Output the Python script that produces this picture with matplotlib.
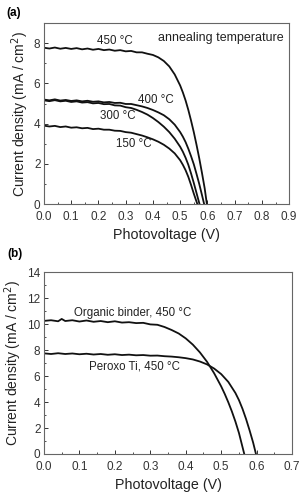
import matplotlib
matplotlib.use("Agg")
import matplotlib.pyplot as plt
from matplotlib.ticker import MultipleLocator

plt.rcParams['font.family'] = ['Liberation Sans', 'DejaVu Sans']

# =========================
# data
# =========================

# (a) annealing temperature series
v_450 = [0.00, 0.02, 0.04, 0.06, 0.08, 0.10, 0.12, 0.14, 0.16, 0.18, 0.20, 0.22, 0.24, 0.26, 0.28,
         0.30, 0.32, 0.34, 0.36, 0.38, 0.40, 0.42, 0.44, 0.46, 0.48, 0.50, 0.51, 0.52, 0.53, 0.54,
         0.55, 0.56, 0.57, 0.58, 0.59, 0.598]
j_450 = [7.78, 7.74, 7.79, 7.73, 7.77, 7.72, 7.76, 7.70, 7.74, 7.68, 7.72, 7.66, 7.69, 7.63, 7.66,
         7.60, 7.62, 7.55, 7.55, 7.48, 7.42, 7.30, 7.12, 6.85, 6.45, 5.90, 5.55, 5.15, 4.68, 4.15,
         3.58, 2.95, 2.28, 1.55, 0.78, 0.0]

v_400 = [0.00, 0.02, 0.04, 0.06, 0.08, 0.10, 0.12, 0.14, 0.16, 0.18, 0.20, 0.22, 0.24, 0.26, 0.28,
         0.30, 0.32, 0.34, 0.36, 0.38, 0.40, 0.42, 0.44, 0.46, 0.48, 0.50, 0.51, 0.52, 0.53, 0.54,
         0.55, 0.56, 0.57, 0.58, 0.588]
j_400 = [5.20, 5.16, 5.21, 5.15, 5.18, 5.13, 5.16, 5.11, 5.14, 5.09, 5.11, 5.06, 5.08, 5.03, 5.04,
         4.98, 4.98, 4.92, 4.86, 4.78, 4.68, 4.56, 4.42, 4.22, 3.95, 3.58, 3.35, 3.08, 2.75, 2.38,
         1.98, 1.50, 1.00, 0.45, 0.0]

v_300 = [0.00, 0.02, 0.04, 0.06, 0.08, 0.10, 0.12, 0.14, 0.16, 0.18, 0.20, 0.22, 0.24, 0.26, 0.28,
         0.30, 0.32, 0.34, 0.36, 0.38, 0.40, 0.42, 0.44, 0.46, 0.48, 0.50, 0.51, 0.52, 0.53, 0.54,
         0.55, 0.56, 0.571]
j_300 = [5.16, 5.12, 5.17, 5.11, 5.14, 5.08, 5.11, 5.05, 5.07, 5.01, 5.03, 4.97, 4.98, 4.91, 4.90,
         4.82, 4.78, 4.69, 4.58, 4.45, 4.28, 4.08, 3.85, 3.58, 3.25, 2.85, 2.60, 2.30, 1.95, 1.52,
         1.05, 0.55, 0.0]

v_150 = [0.00, 0.02, 0.04, 0.06, 0.08, 0.10, 0.12, 0.14, 0.16, 0.18, 0.20, 0.22, 0.24, 0.26, 0.28,
         0.30, 0.32, 0.34, 0.36, 0.38, 0.40, 0.42, 0.44, 0.46, 0.48, 0.50, 0.51, 0.52, 0.53, 0.54,
         0.55, 0.563]
j_150 = [3.90, 3.86, 3.89, 3.83, 3.86, 3.80, 3.82, 3.77, 3.79, 3.73, 3.75, 3.70, 3.70, 3.65, 3.64,
         3.58, 3.55, 3.48, 3.41, 3.32, 3.22, 3.10, 2.95, 2.76, 2.52, 2.18, 1.95, 1.68, 1.35, 0.95,
         0.52, 0.0]

labels_a = ["450 \u00b0C", "400 \u00b0C", "300 \u00b0C", "150 \u00b0C"]
label_pos_a = [(0.26, 8.1), (0.41, 5.2), (0.27, 4.4), (0.33, 3.0)]

# (b) binder comparison
v_org = [0.00, 0.02, 0.04, 0.05, 0.06, 0.08, 0.10, 0.12, 0.14, 0.16, 0.18, 0.20, 0.22, 0.24, 0.26,
         0.28, 0.30, 0.32, 0.34, 0.36, 0.38, 0.40, 0.42, 0.44, 0.46, 0.48, 0.50, 0.51, 0.52, 0.53,
         0.54, 0.55, 0.565]
j_org = [10.25, 10.30, 10.22, 10.40, 10.24, 10.30, 10.20, 10.28, 10.18, 10.24, 10.15, 10.22, 10.12,
         10.15, 10.08, 10.10, 9.98, 9.95, 9.78, 9.55, 9.28, 8.90, 8.42, 7.82, 7.10, 6.22, 5.20, 4.62,
         3.98, 3.28, 2.50, 1.62, 0.0]

v_per = [0.00, 0.02, 0.04, 0.06, 0.08, 0.10, 0.12, 0.14, 0.16, 0.18, 0.20, 0.22, 0.24, 0.26, 0.28,
         0.30, 0.32, 0.34, 0.36, 0.38, 0.40, 0.42, 0.44, 0.46, 0.48, 0.50, 0.52, 0.54, 0.55, 0.56,
         0.57, 0.58, 0.59, 0.598]
j_per = [7.75, 7.70, 7.76, 7.70, 7.74, 7.68, 7.72, 7.66, 7.70, 7.64, 7.68, 7.62, 7.65, 7.60, 7.62,
         7.57, 7.58, 7.53, 7.50, 7.45, 7.38, 7.28, 7.12, 6.90, 6.58, 6.15, 5.55, 4.70, 4.15, 3.48,
         2.70, 1.82, 0.88, 0.0]

labels_b = ["Organic binder, 450 \u00b0C", "Peroxo Ti, 450 \u00b0C"]
label_pos_b = [(0.25, 10.85), (0.255, 6.7)]

# =========================
# figure
# =========================

fig = plt.figure(figsize=(2.99, 4.94), dpi=100)
ax1 = fig.add_axes([0.147, 0.587, 0.820, 0.366])
ax2 = fig.add_axes([0.147, 0.081, 0.830, 0.368])

ylab = "Current density (mA / cm$^2$)"

for v, j in [(v_450, j_450), (v_400, j_400), (v_300, j_300), (v_150, j_150)]:
    ax1.plot(v, j, color="#111111", lw=1.3)
for txt, (x, y) in zip(labels_a, label_pos_a):
    ax1.text(x, y, txt, fontsize=8.3, ha="center", va="center", color="#222222")
ax1.text(0.878, 8.25, "annealing temperature", fontsize=9, ha="right", va="center", color="#222222")
ax1.set_xlim(0, 0.9)
ax1.set_ylim(0, 9)
ax1.xaxis.set_major_locator(MultipleLocator(0.1))
ax1.xaxis.set_minor_locator(MultipleLocator(0.05))
ax1.yaxis.set_major_locator(MultipleLocator(2))
ax1.yaxis.set_minor_locator(MultipleLocator(1))

for v, j in [(v_org, j_org), (v_per, j_per)]:
    ax2.plot(v, j, color="#111111", lw=1.3)
for txt, (x, y) in zip(labels_b, label_pos_b):
    ax2.text(x, y, txt, fontsize=8.3, ha="center", va="center", color="#222222")
ax2.set_xlim(0, 0.7)
ax2.set_ylim(0, 14)
ax2.xaxis.set_major_locator(MultipleLocator(0.1))
ax2.xaxis.set_minor_locator(MultipleLocator(0.05))
ax2.yaxis.set_major_locator(MultipleLocator(2))
ax2.yaxis.set_minor_locator(MultipleLocator(1))

for ax in (ax1, ax2):
    ax.xaxis.set_major_formatter(plt.FuncFormatter(lambda x, p: f"{x:.1f}"))
    ax.tick_params(which="both", direction="in", top=False, right=False,
                   labelsize=8.5, colors="#333333")
    ax.tick_params(axis="x", pad=5)
    ax.tick_params(axis="y", pad=2.5)
    ax.tick_params(which="major", length=3, width=0.7)
    ax.tick_params(which="minor", length=1.5, width=0.6)
    for s in ax.spines.values():
        s.set_color("#666666")
        s.set_linewidth(0.8)
    ax.set_xlabel("Photovoltage (V)", fontsize=10.3, color="#222222", labelpad=3.5)
    ax.set_ylabel(ylab, fontsize=10, color="#222222", labelpad=2)

fig.text(0.02, 0.985, "(a)", fontsize=8.5, fontweight="bold", va="top", ha="left")
fig.text(0.025, 0.497, "(b)", fontsize=8.5, fontweight="bold", va="top", ha="left")

fig.savefig("out.png", dpi=100)
